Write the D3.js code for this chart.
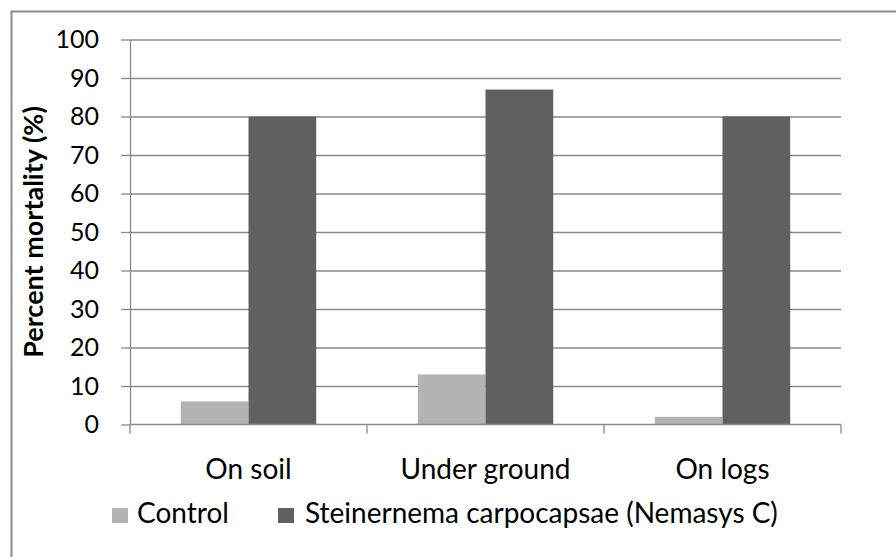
<!DOCTYPE html>
<html>
<head>
<meta charset="utf-8">
<script src="https://cdn.jsdelivr.net/npm/d3@7"></script>
<style>
  html, body { margin: 0; padding: 0; background: #fff; }
  svg { display: block; }
  text { font-family: Lato, "Open Sans", sans-serif; fill: #000; }
</style>
</head>
<body>
<svg id="chart" width="896" height="557"></svg>
<script>
// Mortality by placement
const categories = ["On soil", "Under ground", "On logs"];
const seriesNames = ["Control", "Steinernema carpocapsae (Nemasys C)"];
const controlValues = [6, 13, 2];
const nemasysValues = [80, 87, 80];
const yTicks = [0, 10, 20, 30, 40, 50, 60, 70, 80, 90, 100];
const seriesColors = ["#b3b3b3", "#606060"];

const seriesValues = [controlValues, nemasysValues];

const svg = d3.select("#chart");
const plot = { left: 130, right: 841, top: 39.5, bottom: 424.5 };
const tickFont = 25;
const labelFont = 28;

// chart border
svg.append("rect")
  .attr("x", 11.5).attr("y", 11.5)
  .attr("width", 950).attr("height", 650)
  .attr("fill", "none").attr("stroke", "#8c8c8c").attr("stroke-width", 2);

const x = d3.scaleBand().domain(categories).range([plot.left, plot.right]).paddingInner(0).paddingOuter(0);
const xs = d3.scaleBand().domain(d3.range(seriesNames.length)).range([0, x.bandwidth()]).paddingInner(0).paddingOuter(0.75);
const y = d3.scaleLinear().domain([0, 100]).range([plot.bottom, plot.top]);

// gridlines
const grid = svg.append("g").attr("transform", `translate(${plot.left},0)`)
  .call(d3.axisLeft(y).tickValues(yTicks.filter(v => v > 0)).tickSize(-(plot.right - plot.left)).tickFormat(""));
grid.select(".domain").remove();
grid.selectAll("line").attr("stroke", "#8a8a8a").attr("stroke-width", 1.3);

// y axis
const yAxis = svg.append("g").attr("transform", `translate(${plot.left},0)`)
  .call(d3.axisLeft(y).tickValues(yTicks).tickSize(9).tickPadding(22).tickSizeOuter(0));
yAxis.select(".domain").attr("stroke", "#8a8a8a").attr("stroke-width", 1.3);
yAxis.selectAll("line").attr("stroke", "#8a8a8a").attr("stroke-width", 1.3);
yAxis.selectAll("text").attr("font-size", tickFont).style("font-family", "Lato, sans-serif").attr("fill", "#000");

// bars
seriesNames.forEach((name, si) => {
  svg.append("g").selectAll("rect")
    .data(categories.map((c, i) => ({ c, v: seriesValues[si][i] })))
    .join("rect")
    .attr("x", d => x(d.c) + xs(si))
    .attr("width", xs.bandwidth())
    .attr("y", d => y(d.v))
    .attr("height", d => y(0) - y(d.v))
    .attr("fill", seriesColors[si]);
});

// x axis
const xAxis = svg.append("g").attr("transform", `translate(0,${plot.bottom})`);
xAxis.append("line")
  .attr("x1", plot.left).attr("x2", plot.right)
  .attr("stroke", "#8a8a8a").attr("stroke-width", 1.3);
const boundaries = categories.map(c => x(c)).concat([x(categories[categories.length - 1]) + x.bandwidth()]);
xAxis.selectAll("line.tick").data(boundaries).join("line")
  .attr("class", "tick")
  .attr("x1", d => d).attr("x2", d => d)
  .attr("y1", 0).attr("y2", 9)
  .attr("stroke", "#8a8a8a").attr("stroke-width", 1.3);
xAxis.selectAll("text").data(categories).join("text")
  .attr("x", d => x(d) + x.bandwidth() / 2)
  .attr("y", 54)
  .attr("text-anchor", "middle")
  .attr("font-size", labelFont)
  .text(d => d);

// y axis title
svg.append("text")
  .attr("transform", `translate(43,${(plot.top + plot.bottom) / 2}) rotate(-90)`)
  .attr("text-anchor", "middle")
  .attr("font-size", 27)
  .attr("font-weight", "bold")
  .text("Percent mortality (%)");

// legend
const legendItems = [{ x: 112, tx: 137 }, { x: 278, tx: 305 }];
const legend = svg.append("g");
seriesNames.forEach((name, i) => {
  legend.append("rect")
    .attr("x", legendItems[i].x).attr("y", 508)
    .attr("width", 16).attr("height", 15)
    .attr("fill", seriesColors[i]);
  legend.append("text")
    .attr("x", legendItems[i].tx).attr("y", 523)
    .attr("font-size", labelFont)
    .text(name);
});
</script>
</body>
</html>
